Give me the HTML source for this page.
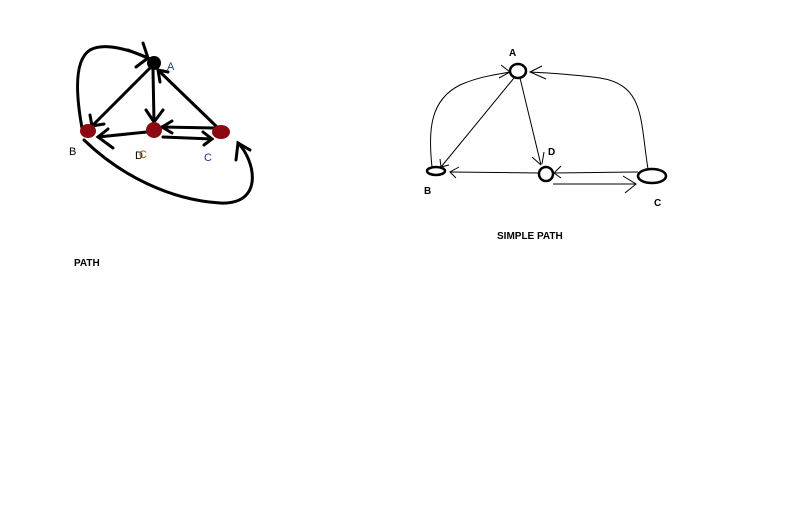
<!DOCTYPE html>
<html><head><meta charset="utf-8"><style>
html,body{margin:0;padding:0;background:#fff;}
svg{display:block;font-family:"Liberation Sans",sans-serif;}
</style></head><body>
<svg width="807" height="532" viewBox="0 0 807 532">
<rect width="807" height="532" fill="#fff"/>
<g stroke="#000" stroke-width="3" fill="none" stroke-linecap="round">
  <path d="M82,128 C76,95 74,60 90,50 C105,42 130,50 148,58"/>
  <path d="M128,50 L148,58 L136,67 M143,43 L148,58"/>
  <path d="M150,68 L92,126"/>
  <path d="M90,115 L92,126 L104,124"/>
  <path d="M153,70 L154,122"/>
  <path d="M146,110 L154,122 L163,110"/>
  <path d="M216,126 L158,70"/>
  <path d="M158,70 L168,72 M158,70 L160,82"/>
  <path d="M214,128 L162,127"/>
  <path d="M172,121 L162,127 L172,133"/>
  <path d="M163,137 L212,139"/>
  <path d="M203,132 L212,139 L204,145"/>
  <path d="M147,132 L98,137"/>
  <path d="M108,129 L98,137 L113,148"/>
  <path d="M84,140 C120,175 170,200 220,203 C265,205 255,160 238,143"/>
  <path d="M236,160 L238,143 L250,150"/>
</g>
<g>
  <circle cx="154" cy="63" r="7" fill="#000"/>
  <ellipse cx="88" cy="131" rx="8" ry="7" fill="#8b0a12"/>
  <ellipse cx="154" cy="130" rx="8" ry="8" fill="#8b0a12"/>
  <ellipse cx="221" cy="132" rx="9" ry="7" fill="#8b0a12"/>
</g>
<g font-size="11">
  <text x="167" y="70" fill="#1a3a8a">A</text>
  <text x="69" y="155" fill="#000">B</text>
  <text x="135" y="159" fill="#000">D</text>
  <text x="139" y="158" fill="#8a5a00">C</text>
  <text x="204" y="161" fill="#1a3a8a">C</text>
  <text x="74" y="266" font-weight="bold" font-size="10">PATH</text>
</g>
<g stroke="#000" stroke-width="1" fill="none">
  <path d="M432,167 C428,130 430,100 460,85 C480,76 500,74 510,72"/>
  <path d="M501,65 L510,72 L499,78"/>
  <path d="M514,78 L441,167"/>
  <path d="M440,159 L441,167 L449,165"/>
  <path d="M520,78 L541,165"/>
  <path d="M532,157 L541,165 M544,152 L542,164"/>
  <path d="M648,169 C640,120 645,85 600,78 C570,74 545,73 530,72"/>
  <path d="M542,66 L530,72 L546,79"/>
  <path d="M539,173 L450,172"/>
  <path d="M459,167 L450,172 L456,178"/>
  <path d="M638,172 L554,173"/>
  <path d="M561,166 L554,173 L561,178"/>
  <path d="M553,184 L636,184"/>
  <path d="M623,176 L636,184 L625,193"/>
</g>
<g stroke="#000" stroke-width="2.5" fill="#fff">
  <ellipse cx="518" cy="71" rx="8" ry="7"/>
  <ellipse cx="436" cy="171" rx="9" ry="4"/>
  <ellipse cx="546" cy="174" rx="7" ry="7"/>
  <ellipse cx="652" cy="176" rx="14" ry="7"/>
</g>
<g font-size="10" font-weight="bold">
  <text x="509" y="56">A</text>
  <text x="548" y="155">D</text>
  <text x="424" y="194">B</text>
  <text x="654" y="206">C</text>
  <text x="497" y="239">SIMPLE PATH</text>
</g>
</svg>
</body></html>
